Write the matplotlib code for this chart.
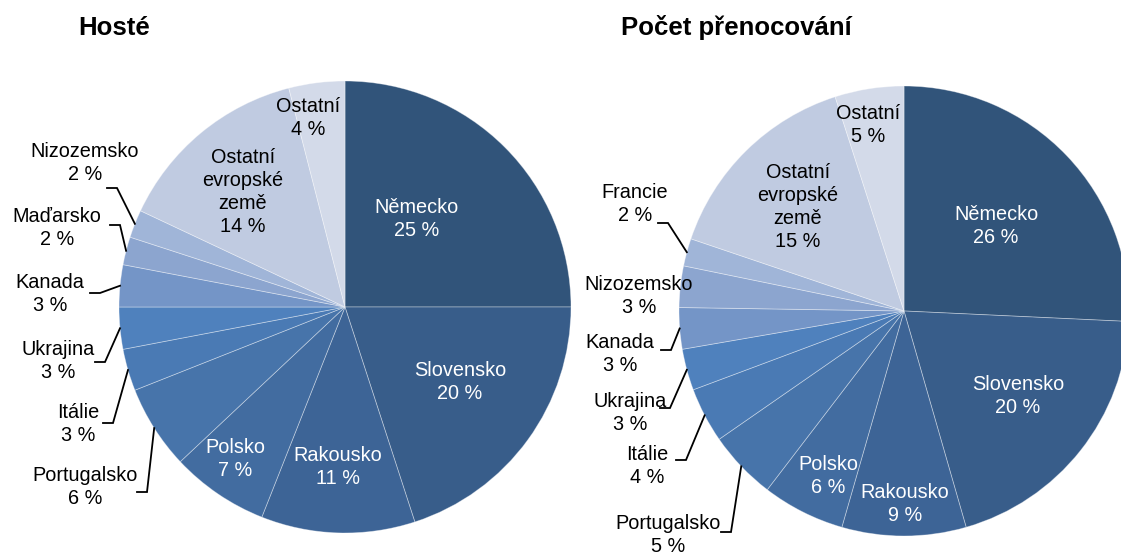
import matplotlib.pyplot as plt
import numpy as np

plt.rcParams['font.family'] = ['Liberation Sans', 'DejaVu Sans']

# DATA
hoste_labels = ['Německo', 'Slovensko', 'Rakousko', 'Polsko', 'Portugalsko', 'Itálie',
                'Ukrajina', 'Kanada', 'Maďarsko', 'Nizozemsko', 'Ostatní\nevropské\nzemě', 'Ostatní']
hoste_values = [25, 20, 11, 7, 6, 3, 3, 3, 2, 2, 14, 4]

noci_labels = ['Německo', 'Slovensko', 'Rakousko', 'Polsko', 'Portugalsko', 'Itálie',
               'Ukrajina', 'Kanada', 'Nizozemsko', 'Francie', 'Ostatní\nevropské\nzemě', 'Ostatní']
noci_values = [26, 20, 9, 6, 5, 4, 3, 3, 3, 2, 15, 5]

colors = ['#31547A', '#385D8A', '#3D6496', '#426CA0', '#4774AA', '#4A7AB4',
          '#4F81BD', '#7495C7', '#8CA5CF', '#A0B5D8', '#C0CBE1', '#D3DAE9']
text_colors = ['white'] * 4 + ['black'] * 8

W, H = 1121, 553

# layout (pixel coords, y from top): label centre, and elbow of leader (None = no leader)
hoste_layout = [((417, 219), None), ((460, 382), None), ((338, 467), None), ((235, 459), None),
                ((85, 487), (147, 492)), ((78, 424), (113, 423)), ((58, 361), (105, 362)),
                ((50, 294), (100, 293)), ((57, 228), (120, 225)), ((85, 163), (117, 188)),
                ((243, 192), None), ((308, 118), None)]
noci_layout = [((996, 226), None), ((1018, 396), None), ((905, 504), None), ((828, 476), None),
               ((668, 535), (731, 532)), ((647, 466), (686, 460)), ((630, 413), (670, 408)),
               ((620, 354), (671, 350)), ((639, 296), None), ((635, 204), (668, 223)),
               ((798, 207), None), ((868, 125), None)]


def Y(y):
    return H - y


fig = plt.figure(figsize=(W / 100, H / 100), dpi=100)
ax = fig.add_axes([0, 0, 1, 1])


def draw_pie(values, labels, layout, cx, cy, r):
    ax.pie(values, colors=colors, startangle=90, counterclock=False,
           center=(cx, Y(cy)), radius=r,
           wedgeprops=dict(edgecolor=(1, 1, 1, 0.4), linewidth=0.6))
    total = float(sum(values))
    cum = np.cumsum([0] + values[:-1])
    for i, (lab, v) in enumerate(zip(labels, values)):
        (tx, ty), elbow = layout[i]
        ax.text(tx, Y(ty), '%s\n%d %%' % (lab, v), ha='center', va='center',
                fontsize=14.3, color=text_colors[i], linespacing=1.28)
        if elbow is not None:
            mid = (cum[i] + v / 2.0) / total
            ang = np.deg2rad(90 - 360 * mid)
            px = cx + r * np.cos(ang)
            py = cy - r * np.sin(ang)
            ex, ey = elbow
            hx = ex - 10 if ex < cx else ex + 10
            ax.plot([px, ex, hx], [Y(py), Y(ey), Y(ey)], color='black', lw=1.3,
                    solid_joinstyle='miter')


draw_pie(hoste_values, hoste_labels, hoste_layout, 345, 307, 226)
draw_pie(noci_values, noci_labels, noci_layout, 904, 311, 225)

ax.text(114, Y(28), 'Hosté', ha='center', va='center', fontsize=18.5, fontweight='bold')
ax.text(736, Y(28), 'Počet přenocování', ha='center', va='center', fontsize=18.5, fontweight='bold')

ax.set_xlim(0, W)
ax.set_ylim(0, H)
ax.set_aspect('auto')
ax.axis('off')

fig.savefig('out.png', dpi=100)
